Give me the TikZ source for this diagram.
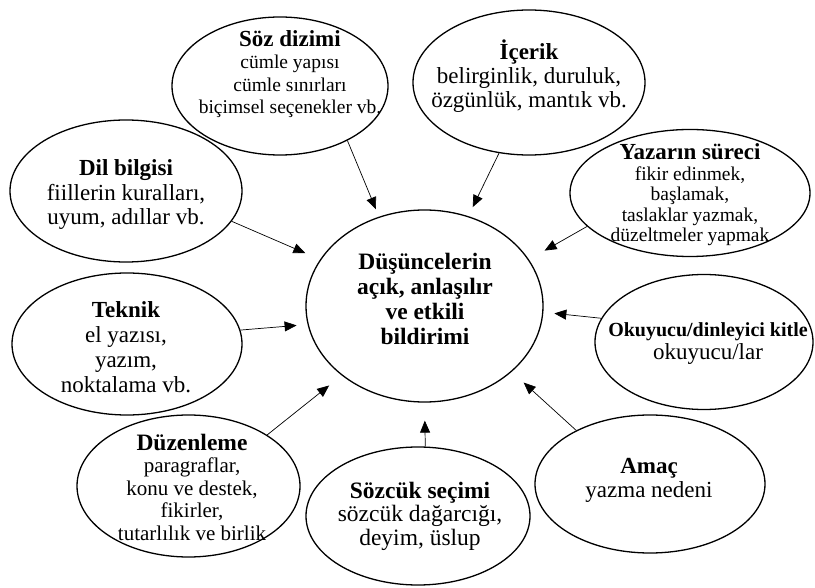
\documentclass[tikz,border=0pt]{standalone}
\usepackage{fontspec}
\setmainfont{Liberation Serif}
\usetikzlibrary{shapes.geometric,arrows.meta}

\tikzset{
  bubble/.style={draw, ellipse, line width=1.3pt, inner sep=0pt},
  note/.style={align=center, inner sep=0pt},
  feed/.style={-{Triangle[length=12pt,width=10pt]}, line width=0.7pt},
}
\newcommand{\fs}[2]{\fontsize{#1}{#2}\selectfont}

\begin{document}
\begin{tikzpicture}[x=1pt,y=-1pt]
\useasboundingbox (0,0) rectangle (815,588);

% ellipses
\node[bubble, minimum width=237pt, minimum height=192pt] (main)   at (424.5,306) {};
\node[bubble, minimum width=216pt, minimum height=138pt] (soz)    at (280,86)    {};
\node[bubble, minimum width=232pt, minimum height=145pt] (icerik) at (529,82.5)  {};
\node[bubble, minimum width=240pt, minimum height=127pt] (yazar)  at (690,193)   {};
\node[bubble, minimum width=218pt, minimum height=135pt] (okur)   at (704,342)   {};
\node[bubble, minimum width=232pt, minimum height=142pt] (dil)    at (126,191)   {};
\node[bubble, minimum width=230pt, minimum height=142pt] (teknik) at (127,344)   {};
\node[bubble, minimum width=223pt, minimum height=142pt] (duzen)  at (188.5,486) {};
\node[bubble, minimum width=224pt, minimum height=138pt] (sozcuk) at (418,516)   {};
\node[bubble, minimum width=230pt, minimum height=138pt] (amac)   at (650,484)   {};

% texts
\node[note, font=\fs{23.5}{25}\bfseries] (main-t) at (425,299)
  {Düşüncelerin\\açık, anlaşılır\\ve etkili\\bildirimi};
\node[note, font=\fs{19.5}{22.3}] (soz-t) at (290,74)
  {\textbf{\fs{23}{22.3}Söz dizimi}\\cümle yapısı\\cümle sınırları\\biçimsel seçenekler vb.};
\node[note, font=\fs{23}{24}] (icerik-t) at (529,76)
  {\textbf{İçerik}\\belirginlik, duruluk,\\özgünlük, mantık vb.};
\node[note, font=\fs{19.5}{20.5}] (yazar-t) at (690,195)
  {\textbf{\fs{23}{20.5}Yazarın süreci}\\fikir edinmek,\\başlamak,\\taslaklar yazmak,\\düzeltmeler yapmak};
\node[note, font=\fs{23}{23}] (okur-t) at (708,344)
  {\textbf{\fs{20}{23}Okuyucu/dinleyici kitle}\\okuyucu/lar};
\node[note, font=\fs{23}{24.5}] (dil-t) at (126,195)
  {\textbf{Dil bilgisi}\\fiillerin kuralları,\\uyum, adıllar vb.};
\node[note, font=\fs{23}{25}] (teknik-t) at (126,347)
  {\textbf{Teknik}\\el yazısı,\\yazım,\\noktalama vb.};
\node[note, font=\fs{21}{22.5}] (duzen-t) at (192,487)
  {\textbf{\fs{23.5}{22.5}Düzenleme}\\paragraflar,\\konu ve destek,\\fikirler,\\tutarlılık ve birlik};
\node[note, font=\fs{23.5}{23.5}] (sozcuk-t) at (420,516)
  {\textbf{Sözcük seçimi}\\sözcük dağarcığı,\\deyim, üslup};
\node[note, font=\fs{23}{24}] (amac-t) at (649,480)
  {\textbf{Amaç}\\yazma nedeni};

% arrows
\draw[feed, shorten >=8pt]  (soz.-39)     -- (main.117);
\draw[feed, shorten >=10pt] (icerik.-113) -- (main.64);
\draw[feed, shorten >=18pt] (yazar.198)   -- (main.24);
\draw[feed, shorten >=11pt] (okur.167)    -- (main.-3.5);
\draw[feed, shorten >=16pt] (dil.-16)     -- (main.156);
\draw[feed, shorten >=11pt] (teknik.7)    -- (main.189);
\draw[feed, shorten >=16pt] (duzen.33)    -- (main.220);
\draw[feed, shorten >=18pt] (sozcuk.84)   -- (main.270);
\draw[feed, shorten >=16pt] (amac.144)    -- (main.-37);

\end{tikzpicture}
\end{document}
